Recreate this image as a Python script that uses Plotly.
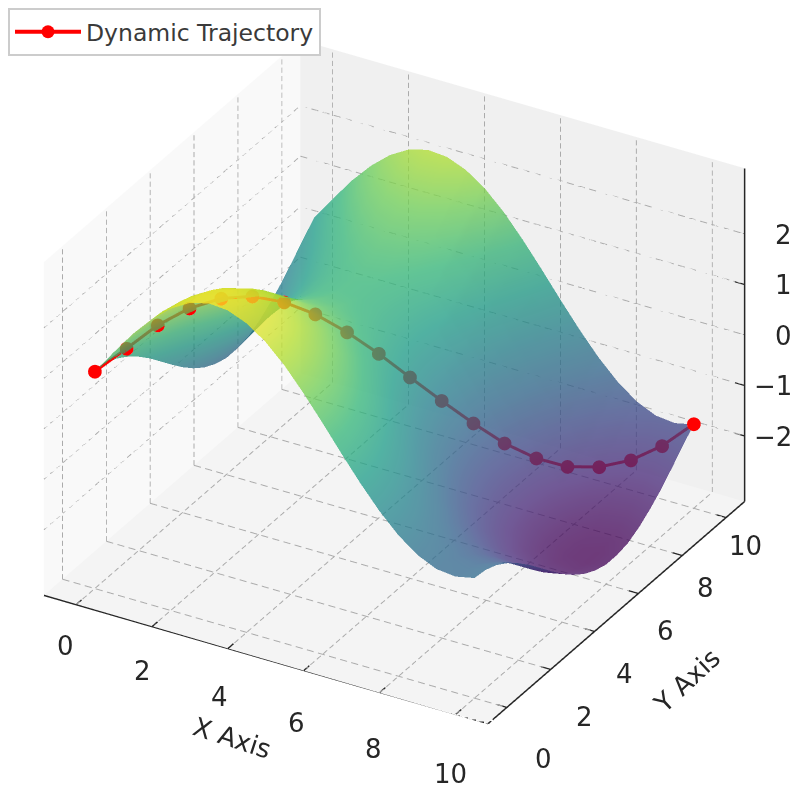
import plotly.graph_objects as go

x_values = [0, 0.5, 1, 1.5, 2, 2.5, 3, 3.5, 4, 4.5, 5, 5.5, 6, 6.5, 7, 7.5, 8, 8.5, 9, 9.5, 10]
y_values = list(x_values)
z_values = [
[1.00,1.49,1.96,2.36,2.68,2.90,3.00,2.97,2.82,2.56,2.20,1.76,1.28,.78,.30,-.14,-.51,-.79,-.96,-1.00,-.92],
[.97,1.46,1.93,2.33,2.65,2.87,2.97,2.94,2.79,2.53,2.17,1.73,1.25,.75,.27,-.17,-.54,-.82,-.99,-1.03,-.95],
[.88,1.37,1.84,2.24,2.56,2.78,2.88,2.85,2.70,2.44,2.08,1.64,1.16,.66,.18,-.26,-.63,-.91,-1.08,-1.12,-1.04],
[.73,1.22,1.69,2.09,2.41,2.63,2.73,2.70,2.55,2.29,1.93,1.49,1.01,.51,.03,-.41,-.78,-1.06,-1.23,-1.27,-1.19],
[.54,1.03,1.50,1.90,2.22,2.44,2.54,2.51,2.36,2.10,1.74,1.30,.82,.32,-.16,-.60,-.97,-1.25,-1.42,-1.46,-1.38],
[.32,.81,1.28,1.68,2.00,2.22,2.32,2.29,2.14,1.88,1.52,1.08,.60,.10,-.38,-.82,-1.19,-1.47,-1.64,-1.68,-1.60],
[.07,.56,1.03,1.43,1.75,1.97,2.07,2.04,1.89,1.63,1.27,.83,.35,-.15,-.63,-1.07,-1.44,-1.72,-1.89,-1.93,-1.85],
[-.18,.31,.78,1.18,1.50,1.72,1.82,1.79,1.64,1.38,1.02,.58,.10,-.40,-.88,-1.32,-1.69,-1.97,-2.14,-2.18,-2.10],
[-.42,.07,.54,.94,1.26,1.48,1.58,1.55,1.40,1.14,.78,.34,-.14,-.64,-1.12,-1.56,-1.93,-2.21,-2.38,-2.42,-2.34],
[-.63,-.14,.33,.73,1.05,1.27,1.37,1.34,1.19,.93,.57,.13,-.35,-.85,-1.33,-1.77,-2.14,-2.42,-2.59,-2.63,-2.55],
[-.80,-.31,.16,.56,.88,1.10,1.20,1.17,1.02,.76,.40,-.04,-.52,-1.02,-1.50,-1.94,-2.31,-2.59,-2.76,-2.80,-2.72],
[-.92,-.43,.04,.44,.76,.98,1.08,1.05,.90,.64,.28,-.16,-.64,-1.14,-1.62,-2.06,-2.43,-2.71,-2.88,-2.92,-2.84],
[-.99,-.50,-.03,.37,.69,.91,1.01,.98,.83,.57,.21,-.23,-.71,-1.21,-1.69,-2.13,-2.50,-2.78,-2.95,-2.99,-2.91],
[-.99,-.50,-.03,.37,.69,.91,1.01,.98,.83,.57,.21,-.23,-.71,-1.21,-1.69,-2.13,-2.50,-2.78,-2.95,-2.99,-2.91],
[-.94,-.45,.02,.42,.74,.96,1.06,1.03,.88,.62,.26,-.18,-.66,-1.16,-1.64,-2.08,-2.45,-2.73,-2.90,-2.94,-2.86],
[-.82,-.33,.14,.54,.86,1.08,1.18,1.15,1.00,.74,.38,-.06,-.54,-1.04,-1.52,-1.96,-2.33,-2.61,-2.78,-2.82,-2.74],
[-.65,-.16,.31,.71,1.03,1.25,1.35,1.32,1.17,.91,.55,.11,-.37,-.87,-1.35,-1.79,-2.16,-2.44,-2.61,-2.65,-2.57],
[-.45,.04,.51,.91,1.23,1.45,1.55,1.52,1.37,1.11,.75,.31,-.17,-.67,-1.15,-1.59,-1.96,-2.24,-2.41,-2.45,-2.37],
[-.21,.28,.75,1.15,1.47,1.69,1.79,1.76,1.61,1.35,.99,.55,.07,-.43,-.91,-1.35,-1.72,-2.00,-2.17,-2.21,-2.13],
[.04,.53,1.00,1.40,1.72,1.94,2.04,2.01,1.86,1.60,1.24,.80,.32,-.18,-.66,-1.10,-1.47,-1.75,-1.92,-1.96,-1.88],
[.28,.77,1.24,1.64,1.96,2.18,2.28,2.25,2.10,1.84,1.48,1.04,.56,.06,-.42,-.86,-1.23,-1.51,-1.68,-1.72,-1.64],
]

traj_x = [0, .53, 1.05, 1.58, 2.11, 2.63, 3.16, 3.68, 4.21, 4.74, 5.26, 5.79, 6.32, 6.84, 7.37, 7.89, 8.42, 8.95, 9.47, 10]
traj_y = list(traj_x)
traj_z = [1.00, 1.37, 1.75, 2.00, 2.11, 2.07, 1.87, 1.55, 1.11, .60, .05, -.50, -1.03, -1.51, -1.89, -2.14, -2.23, -2.18, -1.98, -1.63]

x_ticks = [0, 2, 4, 6, 8, 10]
y_ticks = [0, 2, 4, 6, 8, 10]
z_ticks = [-2, -1, 0, 1, 2]
x_lim = [-0.85, 10.85]
y_lim = [-0.85, 10.85]
z_lim = [-3.3, 3.3]

TXT = "#262626"
RED = "#ff0000"
GRID = "#ababab"

box_scale = 1.307
view_dir = (-0.433, 0.75, -0.5)
eye_dist = 2.0
center = dict(x=0.050, y=0.009, z=-0.045)
eye = dict(x=center["x"] - view_dir[0] * eye_dist, y=center["y"] - view_dir[1] * eye_dist,
           z=center["z"] - view_dir[2] * eye_dist)

# The trajectory sits just behind the surface along the line of sight, so the
# translucent surface tints it as in the reference while its screen position stays put.
depth = 0.08
span = (x_lim[1] - x_lim[0], y_lim[1] - y_lim[0], (z_lim[1] - z_lim[0]) / 0.75)
def nudged(values, axis_index):
    d = view_dir[axis_index] * depth * span[axis_index]
    return [values[0]] + [v + d for v in values[1:-1]] + [values[-1]]

def dashed(a, b, n):
    xs, ys, zs = [], [], []
    for i in range(n):
        for f in (i / n, (i + 0.62) / n):
            xs.append(a[0] + (b[0] - a[0]) * f)
            ys.append(a[1] + (b[1] - a[1]) * f)
            zs.append(a[2] + (b[2] - a[2]) * f)
        xs.append(None); ys.append(None); zs.append(None)
    return xs, ys, zs

gx, gy, gz = [], [], []
def grid(a, b):
    p = dashed(a, b, 40)
    gx.extend(p[0]); gy.extend(p[1]); gz.extend(p[2])
for t in x_ticks:
    grid((t, y_lim[0], z_lim[0]), (t, y_lim[1], z_lim[0]))
    grid((t, y_lim[1], z_lim[0]), (t, y_lim[1], z_lim[1]))
for t in y_ticks:
    grid((x_lim[0], t, z_lim[0]), (x_lim[1], t, z_lim[0]))
    grid((x_lim[0], t, z_lim[0]), (x_lim[0], t, z_lim[1]))
for t in z_ticks:
    grid((x_lim[0], y_lim[0], t), (x_lim[0], y_lim[1], t))
    grid((x_lim[0], y_lim[1], t), (x_lim[1], y_lim[1], t))

ax_x = [x_lim[0], x_lim[1], None, x_lim[1], x_lim[1], None, x_lim[1], x_lim[1]]
ax_y = [y_lim[0], y_lim[0], None, y_lim[0], y_lim[1], None, y_lim[1], y_lim[1]]
ax_z = [z_lim[0], z_lim[0], None, z_lim[0], z_lim[0], None, z_lim[0], z_lim[1]]
tk = 0.25
for t in x_ticks:
    ax_x += [None, t, t]; ax_y += [None, y_lim[0] - tk, y_lim[0] + tk]; ax_z += [None, z_lim[0], z_lim[0]]
for t in y_ticks:
    ax_x += [None, x_lim[1] - tk, x_lim[1] + tk]; ax_y += [None, t, t]; ax_z += [None, z_lim[0], z_lim[0]]
for t in z_ticks:
    ax_x += [None, x_lim[1] - tk, x_lim[1] + tk]; ax_y += [None, y_lim[1], y_lim[1]]; ax_z += [None, t, t]

fig = go.Figure()
fig.add_trace(go.Scatter3d(x=gx, y=gy, z=gz, mode="lines", showlegend=False, hoverinfo="skip",
                           line=dict(color=GRID, width=2)))
fig.add_trace(go.Scatter3d(x=ax_x, y=ax_y, z=ax_z, mode="lines", showlegend=False, hoverinfo="skip",
                           line=dict(color="#262626", width=3)))
fig.add_trace(go.Scatter3d(x=nudged(traj_x, 0), y=nudged(traj_y, 1), z=nudged(traj_z, 2), mode="lines+markers",
                           showlegend=False, name="Dynamic Trajectory", line=dict(color=RED, width=6),
                           marker=dict(color=RED, size=8)))
fig.add_trace(go.Surface(x=x_values, y=y_values, z=z_values, colorscale="Viridis", cmin=-3, cmax=3,
                         showscale=False, opacity=0.76, showlegend=False,
                         lighting=dict(ambient=0.9, diffuse=0.25, specular=0, roughness=1)))
fig.add_trace(go.Scatter3d(x=[traj_x[0], traj_x[-1]], y=[traj_y[0], traj_y[-1]], z=[traj_z[0], traj_z[-1]],
                           mode="markers", showlegend=False, marker=dict(color=RED, size=8)))
fig.add_trace(go.Scatter3d(x=[None], y=[None], z=[None], mode="lines+markers", name="Dynamic Trajectory",
                           line=dict(color=RED, width=4), marker=dict(color=RED, size=13)))

annotations = []
def label(x, y, z, text, xs, ys, angle=0, anchor="center"):
    annotations.append(dict(x=x, y=y, z=z, text=text, showarrow=False, xshift=xs, yshift=ys, textangle=angle,
                            xanchor=anchor, yanchor="middle", font=dict(size=26, color=TXT, family="DejaVu Sans")))
for t in x_ticks:
    label(t, y_lim[0], z_lim[0], str(t), -11 + 0.6 * t, -41 - 1.9 * t)
for t in y_ticks:
    label(x_lim[1], t, z_lim[0], str(t), 37 - 1.7 * t, -52 + 2.4 * t)
for t in z_ticks:
    label(x_lim[1], y_lim[1], t, str(t).replace("-", "\u2212"), 49, -1, anchor="right")
label(5, y_lim[0], z_lim[0], "X Axis", -34, -79, 18)
label(x_lim[1], 5, z_lim[0], "Y Axis", 70, -68, -43)

def axis(lim, ticks, bg):
    return dict(title=dict(text=""), range=lim, tickvals=ticks, showticklabels=False,
                showgrid=False, zeroline=False, showline=False, ticks="",
                showbackground=True, backgroundcolor=bg, showspikes=False)

fig.update_layout(
    width=810, height=785, margin=dict(l=0, r=0, t=0, b=0), paper_bgcolor="white",
    font=dict(family="DejaVu Sans", color=TXT),
    legend=dict(x=0, y=1, xanchor="left", yanchor="top", bgcolor="white", bordercolor="#cccccc",
                borderwidth=2, itemwidth=66, font=dict(size=23.5, color="#3a3a3a")),
    scene=dict(
        domain=dict(x=[0, 1], y=[0, 1]),
        aspectmode="manual", aspectratio=dict(x=box_scale, y=box_scale, z=0.75 * box_scale),
        camera=dict(eye=eye, center=center, projection=dict(type="orthographic")),
        xaxis=axis(x_lim, x_ticks, "#f9f9f9"),
        yaxis=axis(y_lim, y_ticks, "#f0f0f0"),
        zaxis=axis(z_lim, z_ticks, "#f4f4f4"),
        annotations=annotations,
    ),
)
fig.write_html("out.html")
